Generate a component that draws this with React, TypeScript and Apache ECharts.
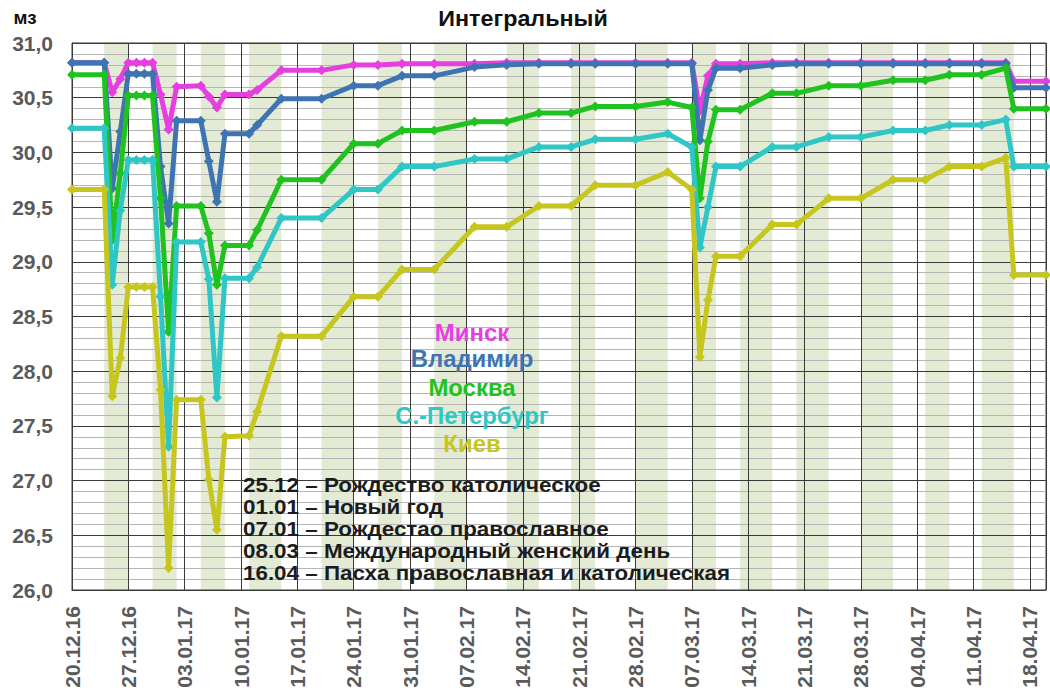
import React, { useEffect, useRef } from "react";
import * as echarts from "echarts";

const START_DATE = "20.12.16";

const pointDates = [
  "20.12.16", "24.12.16", "25.12.16", "26.12.16", "27.12.16", "28.12.16", "29.12.16", "30.12.16",
  "31.12.16", "01.01.17", "02.01.17", "05.01.17", "06.01.17", "07.01.17", "08.01.17", "11.01.17",
  "12.01.17", "15.01.17", "20.01.17", "24.01.17", "27.01.17", "30.01.17", "03.02.17", "08.02.17",
  "12.02.17", "16.02.17", "20.02.17", "23.02.17", "28.02.17", "04.03.17", "07.03.17", "08.03.17",
  "09.03.17", "10.03.17", "13.03.17", "17.03.17", "20.03.17", "24.03.17", "28.03.17", "01.04.17",
  "05.04.17", "08.04.17", "12.04.17", "15.04.17", "16.04.17", "20.04.17",
];

const minsk = [
  30.82, 30.82, 30.55, 30.67, 30.82, 30.82, 30.82, 30.82, 30.53, 30.21,
  30.60, 30.61, 30.51, 30.41, 30.53, 30.53, 30.57, 30.75, 30.75, 30.80,
  30.80, 30.81, 30.81, 30.81, 30.82, 30.82, 30.82, 30.82, 30.82, 30.82,
  30.82, 30.38, 30.70, 30.81, 30.81, 30.82, 30.82, 30.82, 30.82, 30.82,
  30.82, 30.82, 30.82, 30.82, 30.65, 30.65,
];

const vladimir = [
  30.82, 30.82, 29.67, 30.19, 30.72, 30.72, 30.72, 30.72, 29.87, 29.35,
  30.29, 30.29, 29.92, 29.55, 30.17, 30.17, 30.25, 30.49, 30.49, 30.61,
  30.61, 30.70, 30.70, 30.78, 30.80, 30.81, 30.81, 30.81, 30.81, 30.81,
  30.81, 30.11, 30.57, 30.77, 30.77, 30.80, 30.81, 30.81, 30.81, 30.81,
  30.81, 30.81, 30.81, 30.81, 30.59, 30.59,
];

const moscow = [
  30.71, 30.71, 29.20, 29.81, 30.52, 30.52, 30.52, 30.52, 29.58, 28.36,
  29.51, 29.51, 29.26, 28.79, 29.15, 29.15, 29.29, 29.75, 29.75, 30.08,
  30.08, 30.20, 30.20, 30.28, 30.28, 30.36, 30.36, 30.42, 30.42, 30.46,
  30.41, 29.58, 30.10, 30.39, 30.39, 30.54, 30.54, 30.61, 30.61, 30.66,
  30.66, 30.71, 30.71, 30.77, 30.40, 30.40,
];

const spb = [
  30.22, 30.22, 28.79, 29.47, 29.93, 29.93, 29.93, 29.93, 28.68, 27.31,
  29.18, 29.18, 28.84, 27.76, 28.85, 28.85, 28.95, 29.40, 29.40, 29.66,
  29.66, 29.87, 29.87, 29.94, 29.94, 30.05, 30.05, 30.12, 30.12, 30.17,
  30.05, 29.13, 29.50, 29.87, 29.87, 30.05, 30.05, 30.14, 30.14, 30.20,
  30.20, 30.25, 30.25, 30.30, 29.87, 29.87,
];

const kiev = [
  29.66, 29.66, 27.77, 28.12, 28.77, 28.77, 28.77, 28.77, 27.83, 26.20,
  27.74, 27.74, 27.01, 26.55, 27.40, 27.41, 27.63, 28.32, 28.32, 28.68,
  28.68, 28.93, 28.93, 29.32, 29.32, 29.51, 29.51, 29.70, 29.70, 29.82,
  29.66, 28.13, 28.65, 29.05, 29.05, 29.34, 29.34, 29.58, 29.58, 29.75,
  29.75, 29.87, 29.87, 29.95, 28.88, 28.88,
];

const seriesNames = ["Минск", "Владимир", "Москва", "С.-Петербург", "Киев"];
const seriesColors = ["#e63fe0", "#3f74b3", "#1fc21f", "#2fc6c6", "#c6c61e"];

const tickLabels = [
  "20.12.16", "27.12.16", "03.01.17", "10.01.17", "17.01.17", "24.01.17", "31.01.17",
  "07.02.17", "14.02.17", "21.02.17", "28.02.17", "07.03.17", "14.03.17", "21.03.17",
  "28.03.17", "04.04.17", "11.04.17", "18.04.17",
];

const bandStarts = ["24.12.16", "30.12.16", "05.01.17", "11.01.17", "20.01.17", "27.01.17", "03.02.17", "12.02.17",
  "20.02.17", "28.02.17", "07.03.17", "13.03.17", "20.03.17", "28.03.17", "05.04.17", "12.04.17"];
const bandEnds = ["27.12.16", "02.01.17", "08.01.17", "15.01.17", "24.01.17", "30.01.17", "07.02.17", "16.02.17",
  "23.02.17", "04.03.17", "10.03.17", "17.03.17", "24.03.17", "01.04.17", "08.04.17", "16.04.17"];

const END_DATE = "20.04.17";

const notes = [
  "25.12 – Рождество католическое",
  "01.01 – Новый год",
  "07.01 – Рождестао православное",
  "08.03 – Международный женский день",
  "16.04 – Пасха православная и католическая",
];

function toUtc(s: string): number {
  const [d, m, y] = s.split(".").map(Number);
  return Date.UTC(2000 + y, m - 1, d);
}
function dayOffset(s: string): number {
  return Math.round((toUtc(s) - toUtc(START_DATE)) / 86400000);
}

const FONT = '"Liberation Sans", Arial, sans-serif';

export default function App() {
  const ref = useRef<HTMLDivElement>(null);

  useEffect(() => {
    if (!ref.current) return;
    const chart = echarts.init(ref.current, null, { renderer: "svg" });
    const xs = pointDates.map(dayOffset);
    const values = [minsk, vladimir, moscow, spb, kiev];

    const lineSeries = values.map((vals, i) => ({
      name: seriesNames[i],
      type: "line",
      z: 3 + i,
      data: vals.map((v, j) => [xs[j], v]),
      symbol: "diamond",
      symbolSize: 10,
      lineStyle: { width: 5, color: seriesColors[i] },
      itemStyle: { color: seriesColors[i] },
    }));

    const bandSeries = {
      name: "bands",
      type: "line",
      z: 1,
      data: [[0, 26]],
      symbol: "none",
      showSymbol: false,
      lineStyle: { width: 0, opacity: 0 },
      silent: true,
      markArea: {
        silent: true,
        z: 0,
        itemStyle: { color: "#e3ebd5" },
        data: bandStarts.map((s, i) => [{ xAxis: dayOffset(s) }, { xAxis: dayOffset(bandEnds[i]) }]),
      },
    };

    const textEl = (
      text: string,
      x: number,
      y: number,
      size: number,
      fill: string,
      align = "center",
      sx = 1
    ) => ({
      type: "text",
      z: 100,
      x,
      y,
      scaleX: sx,
      style: {
        text,
        x: 0,
        y: 0,
        textAlign: align,
        textVerticalAlign: "middle",
        fontSize: size,
        fontWeight: "bold",
        fontFamily: FONT,
        fill,
      },
    });

    const graphics: any[] = [
      textEl("Интегральный", 523, 18, 22, "#111", "center", 1.06),
      textEl("мз", 25, 18, 18, "#111", "center", 1.05),
    ];

    const legendY = [333, 359, 388, 416, 444];
    seriesNames.forEach((n, i) => graphics.push(textEl(n, 472, legendY[i], 23, seriesColors[i], "center", 1.04)));
    notes.forEach((t, i) => graphics.push(textEl(t, 243, 485 + i * 22, 20, "#1c1c1c", "left", 1.12)));

    chart.setOption({
      animation: false,
      textStyle: { fontFamily: FONT },
      grid: {
        left: 72,
        right: 4,
        top: 43,
        bottom: 110,
        show: true,
        z: 2,
        borderColor: "#3a3a3a",
        borderWidth: 1,
        backgroundColor: "transparent",
      },
      xAxis: {
        type: "value",
        z: 2,
        min: 0,
        max: dayOffset(END_DATE),
        interval: 7,
        axisLine: { show: true, lineStyle: { color: "#3a3a3a", width: 1 } },
        axisTick: { show: false },
        splitLine: { show: true, lineStyle: { color: "#3a3a3a", width: 1 } },
        axisLabel: {
          rotate: 90,
          margin: 16,
          fontSize: 21,
          fontWeight: "bold",
          color: "#5a5a5a",
          fontFamily: FONT,
          showMaxLabel: false,
          formatter: (v: number) => (v % 7 === 0 ? tickLabels[v / 7] ?? "" : ""),
        },
      },
      yAxis: {
        type: "value",
        z: 2,
        min: 26,
        max: 31,
        interval: 0.5,
        axisLine: { show: true, lineStyle: { color: "#3a3a3a", width: 1 } },
        axisTick: { show: false },
        splitLine: { show: true, lineStyle: { color: "#3a3a3a", width: 1 } },
        minorTick: { show: false, splitNumber: 5 },
        minorSplitLine: { show: true, lineStyle: { color: "#b5b5b5", width: 1 } },
        axisLabel: {
          margin: 19,
          fontSize: 21,
          fontWeight: "bold",
          color: "#5a5a5a",
          fontFamily: FONT,
          formatter: (v: number) => v.toFixed(1).replace(".", ","),
        },
      },
      series: [bandSeries, ...lineSeries],
      graphic: graphics,
    });

    return () => chart.dispose();
  }, []);

  return (
    <div
      ref={ref}
      style={{ position: "absolute", left: 0, top: 0, width: 1050, height: 700, background: "#fff" }}
    />
  );
}
